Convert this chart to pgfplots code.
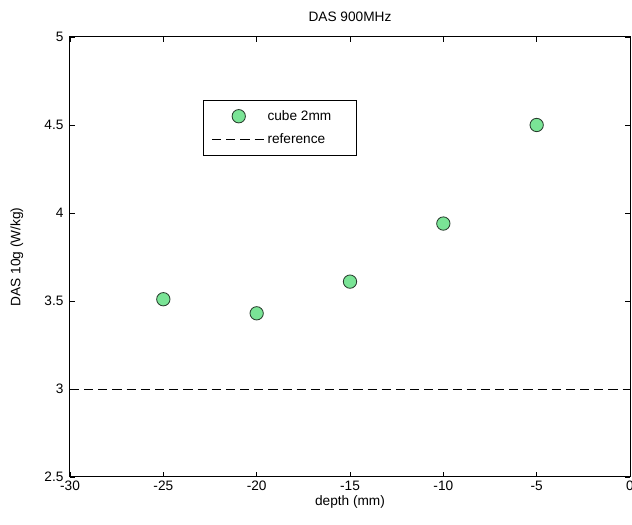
\documentclass[border=0pt]{standalone}
\usepackage{fontspec}
\setmainfont{Liberation Sans}
\usepackage{pgfplots}
\pgfplotsset{compat=1.18}
\usetikzlibrary{calc}
\definecolor{markgreen}{RGB}{122,228,150}
\definecolor{markedge}{RGB}{40,60,45}
\newcommand{\chartfont}{\fontsize{8.2}{10}\selectfont}

\begin{document}
\chartfont
\begin{tikzpicture}
  \begin{axis}[
      scale only axis, width=336pt, height=264pt,
      xmin=-30, xmax=0, ymin=2.5, ymax=5,
      xtick={-30,-25,...,0}, ytick={2.5,3,...,5},
      tick align=inside, major tick length=3pt,
      tick style={black, line width=0.5pt},
      axis line style={line width=0.6pt},
      /pgf/number format/assume math mode=true,
      ticklabel style={font=\chartfont},
      xticklabel style={yshift=0.5pt},
      yticklabel style={xshift=-1pt},
      title={DAS 900MHz}, title style={font=\chartfont},
      xlabel={depth (mm)}, ylabel={DAS 10g (W/kg)},
      label style={font=\chartfont},
      xlabel style={yshift=3pt}, ylabel style={yshift=7pt},
      legend style={at={(0.2375,0.857)}, anchor=north west, draw=black,
        font=\chartfont, row sep=3pt,
        inner xsep=5pt, inner ysep=4pt},
      legend cell align=left,
      clip=false]
    \addplot[only marks, mark=*, mark size=4pt,
      mark options={fill=markgreen, draw=markedge, line width=0.5pt},
      legend image code/.code={\draw[mark=*, mark size=4pt,
        mark options={fill=markgreen, draw=markedge, line width=0.5pt}]
        plot coordinates {(16pt,0pt)};}]
      coordinates {(-25,3.51) (-20,3.43) (-15,3.61) (-10,3.94) (-5,4.50)};
    \addlegendentry{cube 2mm\rule{8pt}{0pt}}
    \addplot[black, line width=0.5pt, dash pattern=on 5.5pt off 3pt,
      legend image code/.code={\draw[black, line width=0.5pt,
        dash pattern=on 5.5pt off 3pt] (0pt,0pt) -- (31pt,0pt);}]
      coordinates {(-30,3) (0,3)};
    \addlegendentry{reference}
  \end{axis}
  \pgfresetboundingbox
  \path ($(current axis.south west)+(-42pt,-28.8pt)$) rectangle ($(current axis.north east)+(1.2pt,22.2pt)$);
\end{tikzpicture}
\end{document}
